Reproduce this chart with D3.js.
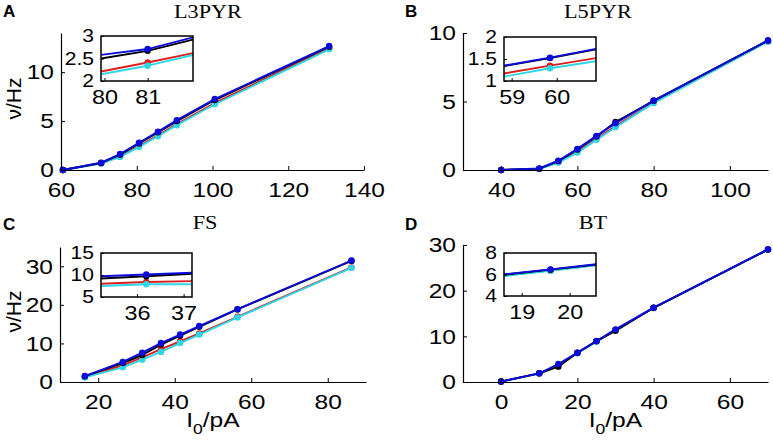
<!DOCTYPE html>
<html lang="en">
<head>
<meta charset="UTF-8">
<title>f-I curves</title>
<script src="https://d3js.org/d3.v7.min.js"></script>
<style>
  body { margin: 0; background: #fff; }
  svg { display: block; }
  .stretch { transform-box: fill-box; transform-origin: center; transform: scaleX(1.17); }
  .stretchR { transform-box: fill-box; transform-origin: right center; transform: scaleX(1.17); }
</style>
</head>
<body>
<div id="chart"></div>
<script>
// series order = draw order (red at the back, blue on top)
const seriesColors = ["#dd1c1c", "#2ed6e6", "#000000", "#0b0be0"];

// panel A: L3PYR
const xA = [60.5, 70.6, 75.6, 80.6, 85.6, 90.6, 100.6, 130.8];
const redA = [0, 0.70, 1.42, 2.45, 3.55, 4.7, 6.85, 12.45];
const cyanA = [0, 0.66, 1.34, 2.36, 3.45, 4.58, 6.72, 12.33];
const blackA = [0, 0.72, 1.57, 2.72, 3.85, 5.0, 7.15, 12.6];
const blueA = [0, 0.75, 1.63, 2.79, 3.92, 5.1, 7.25, 12.67];
const insetXA = [79.92, 81, 82.05];
const insetRedA = [2.21, 2.41, 2.62];
const insetCyanA = [2.15, 2.34, 2.58];
const insetBlackA = [2.5, 2.67, 2.92];
const insetBlueA = [2.58, 2.71, 2.97];

// panel B: L5PYR
const xB = [40, 50, 55, 60, 65, 70, 80, 110];
const redB = [0, 0.08, 0.58, 1.35, 2.28, 3.2, 4.93, 9.4];
const cyanB = [0, 0.07, 0.54, 1.27, 2.2, 3.12, 4.88, 9.37];
const blackB = [0, 0.1, 0.65, 1.5, 2.45, 3.5, 5.05, 9.45];
const blueB = [0, 0.12, 0.68, 1.54, 2.49, 3.41, 5.07, 9.46];
const insetXB = [58.83, 59.85, 60.87];
const insetRedB = [1.17, 1.35, 1.52];
const insetCyanB = [1.10, 1.29, 1.45];
const insetBlackB = [1.34, 1.52, 1.72];
const insetBlueB = [1.35, 1.53, 1.73];

// panel C: FS
const xC = [16.5, 26.4, 31.5, 36.4, 41.4, 46.4, 56.4, 86.2];
const redC = [1.3, 4.3, 6.4, 8.5, 10.5, 12.6, 16.9, 29.7];
const cyanC = [1.2, 3.8, 5.8, 7.8, 10.1, 12.3, 16.75, 29.6];
const blackC = [1.5, 4.9, 7.0, 9.7, 12.0, 14.3, 18.8, 31.4];
const blueC = [1.54, 5.2, 7.6, 10.1, 12.3, 14.5, 18.9, 31.5];
const insetXC = [35.23, 36.2, 37.18];
const insetRedC = [8.0, 8.4, 8.6];
const insetCyanC = [7.5, 7.9, 7.9];
const insetBlackC = [9.2, 9.7, 10.3];
const insetBlueC = [9.7, 10.1, 10.5];

// panel D: BT
const xD = [0, 10, 15, 20, 25, 30, 40, 70];
const redD = [0.08, 1.88, 3.6, 6.35, 8.9, 11.4, 16.22, 29.0];
const cyanD = [0.05, 1.85, 3.7, 6.3, 8.85, 11.4, 16.2, 29.0];
const blackD = [0.1, 1.9, 3.36, 6.4, 8.95, 11.2, 16.25, 29.0];
const blueD = [0.1, 1.9, 3.94, 6.42, 8.98, 11.53, 16.28, 29.05];
const insetXD = [18.63, 19.6, 20.55];
const insetRedD = [5.9, 6.38, 6.88];
const insetCyanD = [5.85, 6.35, 6.85];
const insetBlackD = [5.98, 6.45, 6.92];
const insetBlueD = [6.02, 6.48, 6.95];

// tick values
const xTicksA = [60, 80, 100, 120, 140], yTicksA = [0, 5, 10];
const xTicksB = [40, 60, 80, 100], yTicksB = [0, 5, 10];
const xTicksC = [20, 40, 60, 80], yTicksC = [0, 10, 20, 30];
const xTicksD = [0, 20, 40, 60], yTicksD = [0, 10, 20, 30];

const panels = [
  { letter: "A", title: "L3PYR", x: xA, ys: [redA, cyanA, blackA, blueA],
    xDom: [60, 140], yDom: [0, 14], xTicks: xTicksA, yTicks: yTicksA,
    box: [61, 364, 33, 170], titleX: 208, titleY: 18, letterX: 3, letterY: 17, ylabel: true, xlabel: false,
    inset: { x: insetXA, ys: [insetRedA, insetCyanA, insetBlackA, insetBlueA], xDom: [79.92, 82.05], yDom: [2, 3],
             xTicks: [80, 81], yTicks: [2, 2.5, 3], box: [101, 193, 36, 81] } },
  { letter: "B", title: "L5PYR", x: xB, ys: [redB, cyanB, blackB, blueB],
    xDom: [30, 110], yDom: [0, 10], xTicks: xTicksB, yTicks: yTicksB,
    box: [463, 768, 33, 170], titleX: 598, titleY: 18, letterX: 405, letterY: 17, ylabel: false, xlabel: false,
    inset: { x: insetXB, ys: [insetRedB, insetCyanB, insetBlackB, insetBlueB], xDom: [58.83, 60.87], yDom: [1, 2],
             xTicks: [59, 60], yTicks: [1, 1.5, 2], box: [504, 596, 37, 81] } },
  { letter: "C", title: "FS", x: xC, ys: [redC, cyanC, blackC, blueC],
    xDom: [10, 90], yDom: [0, 35], xTicks: xTicksC, yTicks: yTicksC,
    box: [60, 366, 247, 382], titleX: 205, titleY: 229, letterX: 3, letterY: 230, ylabel: true, xlabel: true,
    inset: { x: insetXC, ys: [insetRedC, insetCyanC, insetBlackC, insetBlueC], xDom: [35.23, 37.18], yDom: [5, 15],
             xTicks: [36, 37], yTicks: [5, 10, 15], box: [101, 192, 253, 297] } },
  { letter: "D", title: "BT", x: xD, ys: [redD, cyanD, blackD, blueD],
    xDom: [-10, 70], yDom: [0, 30], xTicks: xTicksD, yTicks: yTicksD,
    box: [463, 768, 245, 382], titleX: 593, titleY: 229, letterX: 405, letterY: 230, ylabel: false, xlabel: true,
    inset: { x: insetXD, ys: [insetRedD, insetCyanD, insetBlackD, insetBlueD], xDom: [18.63, 20.55], yDom: [4, 8],
             xTicks: [19, 20], yTicks: [4, 6, 8], box: [504, 596, 253, 296] } }
];

const W = 773, H = 446;
const sans = "'Liberation Sans', Arial, sans-serif";
const serif = "'Liberation Serif', 'Times New Roman', serif";
const fmt = d3.format("~g");

const svg = d3.select("#chart").append("svg")
  .attr("width", W).attr("height", H)
  .style("background", "#fff");

function styleAxis(g, isY, size) {
  g.selectAll("text")
    .attr("class", isY ? "stretchR" : "stretch")
    .style("font-family", sans).style("font-size", size + "px").attr("fill", "#000");
  g.selectAll(".tick line").attr("stroke", "#000");
}

function drawSeries(g, x, y, xs, ys, lw, r, markAll) {
  ys.forEach((vals, si) => {
    const pts = xs.map((v, i) => [v, vals[i]]);
    g.append("path")
      .datum(pts)
      .attr("fill", "none")
      .attr("stroke", seriesColors[si])
      .attr("stroke-width", lw)
      .attr("stroke-linejoin", "round")
      .attr("d", d3.line().x(d => x(d[0])).y(d => y(d[1])));
    const marks = markAll ? pts : pts.slice(1, -1);
    g.selectAll(null).data(marks).enter().append("circle")
      .attr("cx", d => x(d[0])).attr("cy", d => y(d[1]))
      .attr("r", r).attr("fill", seriesColors[si]);
  });
}

panels.forEach((p, pi) => {
  const [l, r, t, b] = p.box;
  const x = d3.scaleLinear().domain(p.xDom).range([l, r]);
  const y = d3.scaleLinear().domain(p.yDom).range([b, t]);

  // data
  drawSeries(svg.append("g"), x, y, p.x, p.ys, 1.9, 3.2, true);

  // axes
  const gx = svg.append("g").attr("transform", `translate(0,${b})`)
    .call(d3.axisBottom(x).tickValues(p.xTicks).tickFormat(fmt).tickSize(-4).tickSizeOuter(0).tickPadding(12));
  gx.select(".domain").attr("stroke", "#000").attr("stroke-width", 1.2);
  styleAxis(gx, false, 21);
  const gy = svg.append("g").attr("transform", `translate(${l},0)`)
    .call(d3.axisLeft(y).tickValues(p.yTicks).tickFormat(fmt).tickSize(-4).tickSizeOuter(0).tickPadding(7));
  gy.select(".domain").attr("stroke", "#000").attr("stroke-width", 1.2);
  styleAxis(gy, true, 21);

  // inset
  const ins = p.inset;
  const [il, ir, it, ib] = ins.box;
  const ix = d3.scaleLinear().domain(ins.xDom).range([il, ir]);
  const iy = d3.scaleLinear().domain(ins.yDom).range([ib, it]);
  svg.append("rect").attr("x", il).attr("y", it).attr("width", ir - il).attr("height", ib - it)
    .attr("fill", "#fff");
  svg.append("clipPath").attr("id", "clip" + pi)
    .append("rect").attr("x", il).attr("y", it).attr("width", ir - il).attr("height", ib - it);
  drawSeries(svg.append("g").attr("clip-path", `url(#clip${pi})`), ix, iy, ins.x, ins.ys, 1.9, 3.2, false);
  const igx = svg.append("g").attr("transform", `translate(0,${ib})`)
    .call(d3.axisBottom(ix).tickValues(ins.xTicks).tickFormat(fmt).tickSize(-3).tickSizeOuter(0).tickPadding(9));
  igx.select(".domain").remove();
  styleAxis(igx, false, 20);
  const igy = svg.append("g").attr("transform", `translate(${il},0)`)
    .call(d3.axisLeft(iy).tickValues(ins.yTicks).tickFormat(fmt).tickSize(-3).tickSizeOuter(0).tickPadding(7));
  igy.select(".domain").remove();
  styleAxis(igy, true, 18);
  svg.append("rect").attr("x", il).attr("y", it).attr("width", ir - il).attr("height", ib - it)
    .attr("fill", "none").attr("stroke", "#000").attr("stroke-width", 1.5);

  // title and panel letter
  svg.append("text").attr("class", "stretch")
    .attr("x", p.titleX).attr("y", p.titleY).attr("text-anchor", "middle")
    .style("font-family", serif).style("font-size", "19px")
    .text(p.title);
  svg.append("text")
    .attr("x", p.letterX).attr("y", p.letterY)
    .style("font-family", sans).style("font-size", "17px").style("font-weight", "bold")
    .text(p.letter);

  if (p.ylabel) {
    svg.append("text")
      .attr("transform", `translate(21,${(t + b) / 2 - 3}) rotate(-90)`)
      .attr("text-anchor", "middle")
      .style("font-family", sans).style("font-size", "21px")
      .text("ν/Hz");
  }
  if (p.xlabel) {
    const tx = svg.append("text").attr("class", "stretch")
      .attr("x", (l + r) / 2).attr("y", 427).attr("text-anchor", "middle")
      .style("font-family", sans).style("font-size", "21px");
    tx.append("tspan").text("I");
    tx.append("tspan").attr("dy", 7).style("font-size", "15px").text("0");
    tx.append("tspan").attr("dy", -7).text("/pA");
  }
});
</script>
</body>
</html>
